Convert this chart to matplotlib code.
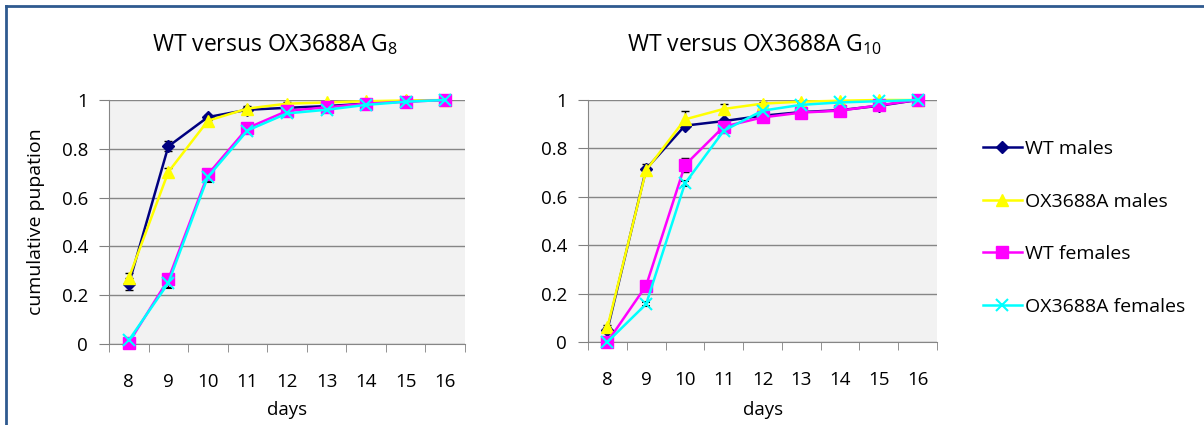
import numpy as np
import matplotlib
matplotlib.use("Agg")
import matplotlib.pyplot as plt
from matplotlib.lines import Line2D

plt.rcParams['font.family'] = ['Open Sans', 'DejaVu Sans']
plt.rcParams['mathtext.fontset'] = 'custom'
plt.rcParams['mathtext.rm'] = 'Open Sans'
plt.rcParams['mathtext.it'] = 'Open Sans'

# === Данные ===
days = [8, 9, 10, 11, 12, 13, 14, 15, 16]
series_names = ["WT males", "OX3688A males", "WT females", "OX3688A females"]

# G8
g8_wt_m = [0.245, 0.81, 0.93, 0.96, 0.968, 0.975, 0.985, 0.995, 1.0]
g8_ox_m = [0.27, 0.705, 0.915, 0.965, 0.985, 0.99, 0.995, 0.998, 1.0]
g8_wt_f = [0.005, 0.265, 0.695, 0.885, 0.955, 0.97, 0.985, 0.993, 1.0]
g8_ox_f = [0.015, 0.25, 0.685, 0.875, 0.945, 0.96, 0.98, 0.993, 1.0]
g8_err_wt_m = [0.025, 0.02, 0.01, 0.01, 0.005, 0.005, 0.003, 0.002, 0]
g8_err_ox_m = [0.02, 0.015, 0.01, 0.01, 0.005, 0.003, 0.002, 0.001, 0]
g8_err_wt_f = [0.005, 0.02, 0.015, 0.01, 0.005, 0.005, 0.003, 0.002, 0]
g8_err_ox_f = [0.005, 0.02, 0.02, 0.01, 0.005, 0.005, 0.003, 0.002, 0]

# G10
g10_wt_m = [0.05, 0.715, 0.894, 0.913, 0.935, 0.95, 0.958, 0.976, 1.0]
g10_ox_m = [0.06, 0.71, 0.92, 0.963, 0.985, 0.993, 0.997, 1.0, 1.0]
g10_wt_f = [0.0, 0.233, 0.731, 0.89, 0.928, 0.948, 0.956, 0.978, 1.0]
g10_ox_f = [0.0, 0.157, 0.655, 0.873, 0.956, 0.98, 0.99, 0.995, 1.0]
g10_err_wt_m = [0.01, 0.02, 0.01, 0.01, 0.005, 0.005, 0.005, 0.005, 0]
g10_err_ox_m = [0.01, 0.01, 0.035, 0.02, 0.005, 0.003, 0.002, 0.001, 0]
g10_err_wt_f = [0.0, 0.01, 0.03, 0.01, 0.005, 0.005, 0.005, 0.005, 0]
g10_err_ox_f = [0.0, 0.01, 0.01, 0.01, 0.005, 0.005, 0.003, 0.002, 0]

colors = ["#000080", "#FFFF00", "#FF00FF", "#00FFFF"]
markers = ["D", "^", "s", "x"]
msizes = [6, 8, 8, 8]

TICK_FS = 13.5


def draw_panel(ax, ys, errs):
    for y, e, c, m, ms in zip(ys, errs, colors, markers, msizes):
        ax.errorbar(days, y, yerr=e, color=c, marker=m, markersize=ms,
                    markeredgewidth=1.5 if m == "x" else 1, lw=1.8,
                    ecolor="black", elinewidth=1, capsize=3, clip_on=False,
                    zorder=3)
    ax.set_facecolor("#f2f2f2")
    ax.set_xlim(7.5, 16.5)
    ax.set_ylim(0, 1)
    ax.set_yticks(np.arange(0, 1.01, 0.2))
    ax.set_yticklabels(["0", "0.2", "0.4", "0.6", "0.8", "1"])
    ax.set_xticks(days)
    ax.set_xticks(np.arange(7.5, 16.6, 1), minor=True)
    ax.tick_params(axis="x", which="major", length=0, pad=21, labelsize=TICK_FS)
    ax.tick_params(axis="x", which="minor", length=6, color="#808080", direction="out")
    ax.tick_params(axis="y", length=7, color="#808080", pad=8, labelsize=TICK_FS)
    ax.grid(axis="y", color="#868686", lw=1)
    ax.set_axisbelow(True)
    for s in ["top", "right"]:
        ax.spines[s].set_visible(False)
    for s in ["left", "bottom"]:
        ax.spines[s].set_color("#868686")


fig = plt.figure(figsize=(12.04, 4.25), dpi=100)

ax1 = fig.add_axes([109 / 1204, 1 - 344 / 425, 356 / 1204, 244 / 425])
draw_panel(ax1, [g8_wt_m, g8_ox_m, g8_wt_f, g8_ox_f],
           [g8_err_wt_m, g8_err_ox_m, g8_err_wt_f, g8_err_ox_f])
ax1.set_ylabel("cumulative pupation", fontsize=14)
ax1.yaxis.set_label_coords(-0.18, 0.5)

ax2 = fig.add_axes([588 / 1204, 1 - 342 / 425, 349 / 1204, 242 / 425])
draw_panel(ax2, [g10_wt_m, g10_ox_m, g10_wt_f, g10_ox_f],
           [g10_err_wt_m, g10_err_ox_m, g10_err_wt_f, g10_err_ox_f])

fig.text(275 / 1204, 1 - 45 / 425, r"WT versus OX3688A G$_8$", fontsize=16.5,
         ha="center", va="center")
fig.text(755 / 1204, 1 - 45 / 425, r"WT versus OX3688A G$_{10}$", fontsize=16.5,
         ha="center", va="center")
fig.text(287 / 1204, 1 - 410 / 425, "days", fontsize=TICK_FS, ha="center", va="center")
fig.text(763 / 1204, 1 - 410 / 425, "days", fontsize=TICK_FS, ha="center", va="center")

handles = [Line2D([], [], color=c, marker=m, markersize=ms, lw=1.8,
                  markeredgewidth=1.5 if m == "x" else 1)
           for c, m, ms in zip(colors, markers, msizes)]
fig.legend(handles, series_names, loc="upper left",
           bbox_to_anchor=(983 / 1204, 1 - 140 / 425), frameon=False,
           fontsize=14, handlelength=2.0, handletextpad=0.15, labelspacing=1.78,
           borderpad=0, borderaxespad=0)

# рамка
fig.add_artist(Line2D([6 / 1204, 6 / 1204], [0, 1 - 6 / 425], color="#2f5a8f", lw=2,
                      transform=fig.transFigure))
fig.add_artist(Line2D([6 / 1204, 1], [1 - 6 / 425, 1 - 6 / 425], color="#2f5a8f", lw=2,
                      transform=fig.transFigure))

fig.savefig("out.png", dpi=100)
